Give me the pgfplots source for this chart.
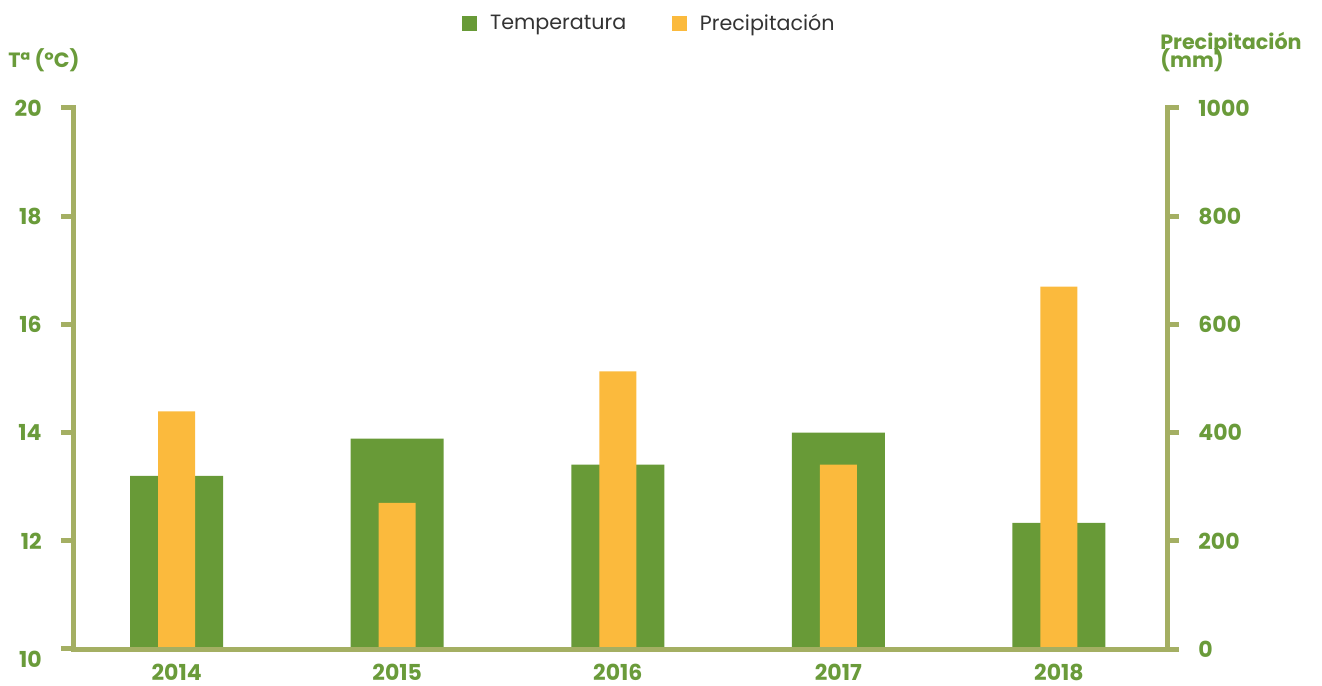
\documentclass[border=0pt]{standalone}
\usepackage{fontspec}
\setmainfont{Poppins}
\usepackage{pgfplots}
\pgfplotsset{compat=1.18}
\definecolor{tgreen}{HTML}{689A37}
\definecolor{torange}{HTML}{FBBA3D}
\definecolor{axisol}{HTML}{A4AF63}
\definecolor{lgreen}{HTML}{6A9B3A}
\definecolor{ltext}{HTML}{333333}
\pgfplotsset{
  common/.style={
    at={(54.75pt,27.75pt)}, anchor=south west,
    scale only axis, width=820.5pt, height=405.75pt,
    xmin=-0.47, xmax=4.49,
    axis line style={draw=axisol, line width=3.75pt, line cap=rect},
    major tick length=9pt,
    ytick style={draw=axisol, line width=3.75pt},
    /pgf/number format/assume math mode=true,
    /pgf/number format/1000 sep={},
    axis on top,
  },
  sq/.style={legend image code/.code={\fill[##1] (0pt,-5.6pt) rectangle (11.25pt,5.6pt);}},
}
\begin{document}
\begin{tikzpicture}
\useasboundingbox (0,0) rectangle (991.5pt,514.5pt);
% temperature, left axis
\begin{axis}[common,
  ymin=10, ymax=20,
  axis x line=none, axis y line*=left,
  ytick pos=left, tick align=outside,
  ytick={12,14,16,18,20},
  extra y ticks={10},
  extra y tick style={major tick style={draw=none}, yticklabel style={yshift=-8pt}},
  yticklabel style={font=\bfseries\fontsize{16.5}{16.5}\selectfont, text=lgreen, xshift=-11pt},
  legend style={at={(0.527,1.156)}, anchor=center, draw=none, fill=none,
    legend columns=2, font=\fontsize{15.5}{15.5}\selectfont, text=ltext,
    /tikz/every odd column/.append style={column sep=8pt},
    /tikz/every even column/.append style={column sep=32pt}},
]
\addplot[ybar, bar width=69.75pt, bar shift=0pt, fill=tgreen, draw=none, sq]
  coordinates {(0,13.2) (1,13.89) (2,13.41) (3,14.0) (4,12.33)};
\addlegendentry{Temperatura}
\addlegendimage{fill=torange, draw=none, sq}
\addlegendentry{Precipitación}
\end{axis}
% precipitation, right axis
\begin{axis}[common,
  ymin=0, ymax=1000,
  axis x line*=bottom, axis y line*=right,
  ytick pos=right, tick align=outside,
  xtick={0,1,2,3,4}, xticklabels={2014,2015,2016,2017,2018},
  xtick style={draw=none},
  xticklabel style={font=\bfseries\fontsize{16.5}{16.5}\selectfont, text=lgreen, yshift=1pt},
  ytick={200,400,600,800,1000},
  extra y ticks={0},
  extra y tick style={major tick style={draw=none}},
  yticklabel style={font=\bfseries\fontsize{16.5}{16.5}\selectfont, text=lgreen, xshift=11pt},
]
\addplot[ybar, bar width=27.75pt, bar shift=0pt, fill=torange, draw=none]
  coordinates {(0,439) (1,270) (2,513) (3,341) (4,670)};
\end{axis}
\node[anchor=base west, font=\bfseries\fontsize{15.5}{15.5}\selectfont, text=lgreen, inner sep=0pt]
  at (6pt,463.5pt) {Tª (ºC)};
\node[anchor=base west, font=\bfseries\fontsize{15.5}{15.5}\selectfont, text=lgreen, inner sep=0pt]
  at (870pt,477.5pt) {Precipitación};
\node[anchor=base west, font=\bfseries\fontsize{15.5}{15.5}\selectfont, text=lgreen, inner sep=0pt]
  at (870pt,463.5pt) {(mm)};
\end{tikzpicture}
\end{document}
